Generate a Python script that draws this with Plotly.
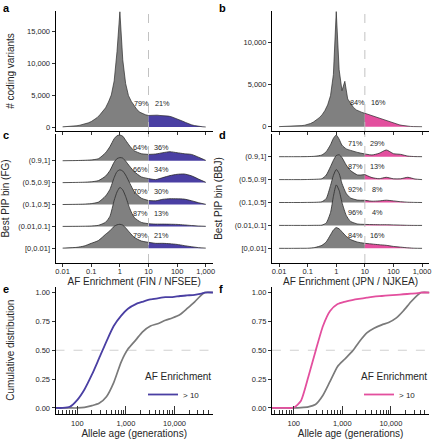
import numpy as np
import plotly.graph_objects as go

# ---------------- data ----------------
# panels a / b : histogram of log10(AF enrichment), bin centres
hist_log10_af = [-2.0, -1.9, -1.8, -1.7, -1.6, -1.5, -1.4, -1.3, -1.2, -1.1,
                 -1.0, -0.9, -0.8, -0.7, -0.6, -0.5, -0.4, -0.3, -0.2, -0.1,
                 0.0, 0.1, 0.2, 0.3, 0.4, 0.5, 0.6, 0.7, 0.8, 0.9,
                 1.0, 1.1, 1.2, 1.3, 1.4, 1.5, 1.6, 1.7, 1.8, 1.9,
                 2.0, 2.1, 2.2, 2.3, 2.4, 2.5, 2.6, 2.7, 2.8, 2.9, 3.0]
fin_counts = [20, 40, 60, 100, 140, 200, 280, 380, 500, 650,
              850, 1100, 1450, 1900, 2400, 3000, 3900, 5000, 7200, 11800,
              18000, 10500, 6800, 4900, 4000, 3300, 2700, 2300, 2050, 1900,
              1800, 1850, 1900, 1850, 1800, 1800, 1750, 1700, 1600, 1450,
              1300, 1100, 900, 700, 500, 350, 230, 140, 70, 25, 5]
jpn_counts = [10, 15, 20, 30, 40, 55, 70, 95, 130, 180,
              260, 380, 550, 780, 1050, 1400, 1900, 2600, 3700, 6200,
              13700, 6800, 4300, 5400, 3300, 2800, 2300, 2000, 1800, 1700,
              1600, 1480, 1350, 1220, 1100, 980, 860, 740, 620, 510,
              400, 310, 230, 160, 100, 60, 30, 15, 5, 2, 0]
fin_pct = ["79%", "21%"]
jpn_pct = ["84%", "16%"]

# panels c / d : ridgeline densities (relative heights) per best-PIP bin
ridge_log10_af = [-2, -1.5, -1.25, -1, -0.75, -0.5, -0.35, -0.2, -0.1, 0, 0.1, 0.2,
                  0.35, 0.5, 0.75, 1, 1.25, 1.5, 1.75, 2, 2.25, 2.5, 2.75, 3]
pip_bins = ["[0,0.01]", "(0.01,0.1]", "(0.1,0.5]", "(0.5,0.9]", "(0.9,1]"]
fg_dens_bin1 = [0.2, 1, 2.3, 5, 7.8, 14, 17.5, 22, 23.5, 24, 23.2, 20.5, 15.5, 11, 7.3, 6, 5, 5, 4.6, 3.9, 2.7, 1.6, 0.7, 0.2]
fg_dens_bin2 = [0, 0.1, 0.2, 0.4, 1.1, 4.2, 10, 26, 34.5, 39, 36.5, 30, 17.5, 9, 4, 2.7, 2.3, 2.3, 2.2, 2, 1.5, 0.9, 0.4, 0.1]
fg_dens_bin3 = [0, 0.2, 0.4, 0.9, 2.4, 8.5, 15, 27, 33, 34.7, 33.5, 29.5, 21, 13, 6.3, 4, 3.7, 5.2, 5.8, 5.7, 5.4, 3.8, 1.8, 0.2]
fg_dens_bin4 = [0, 0.2, 0.4, 0.8, 2, 6.5, 12, 20.5, 24, 25, 24.5, 21.5, 16, 11, 5.7, 4, 3, 5, 7, 8.3, 8.6, 6.8, 3.5, 0.3]
fg_dens_bin5 = [0, 0.2, 0.4, 0.8, 2, 8, 14, 22, 25, 25.7, 24.5, 20.5, 14.5, 10, 7, 6.3, 6.7, 8, 9, 8, 7, 6.3, 3.5, 0.3]
bbj_dens_bin1 = [0, 0, 0.05, 0.1, 0.8, 3, 6.5, 13.5, 18.3, 20.7, 19.5, 16.5, 12, 8.8, 6.2, 5, 4.3, 3.6, 3, 1.9, 1.2, 0.5, 0.1, 0]
bbj_dens_bin2 = [0, 0, 0, 0, 0.1, 0.3, 2.5, 13, 29, 40.5, 35, 23, 10, 4, 1.4, 1, 0.8, 0.7, 0.7, 0.5, 0.3, 0.1, 0, 0]
bbj_dens_bin3 = [0, 0, 0, 0.1, 0.2, 0.8, 4, 17, 27, 33, 29, 19, 9, 4.5, 2.4, 2.2, 1.3, 1.6, 2.3, 1.6, 0.8, 0.3, 0.1, 0]
bbj_dens_bin4 = [0, 0, 0, 0.1, 0.3, 0.9, 4.5, 13, 19.3, 24, 24.8, 22, 14.5, 9, 4.6, 5, 2, 0.9, 2.3, 0.8, 0.8, 2.3, 0.6, 0]
bbj_dens_bin5 = [0, 0, 0, 0.1, 0.4, 1.7, 5, 12, 18.3, 21.7, 17.5, 11.5, 7.8, 6.3, 4.2, 2.7, 1.7, 3.4, 6.7, 3, 2.3, 0.6, 0.1, 0]
fg_pct_low = ["79%", "87%", "70%", "66%", "64%"]
fg_pct_high = ["21%", "13%", "30%", "34%", "36%"]
bbj_pct_low = ["84%", "96%", "92%", "87%", "71%"]
bbj_pct_high = ["16%", "4%", "8%", "13%", "29%"]

# panels e / f : cumulative distribution of allele age
allele_age = [35, 50, 70, 100, 140, 200, 280, 400, 560, 800, 1100, 1600, 2200, 3200,
              4500, 6500, 9000, 13000, 18000, 26000, 36000, 42000, 65000]
fin_cdf_high = [0, 0, 0.01, 0.07, 0.16, 0.29, 0.43, 0.58, 0.71, 0.80, 0.86, 0.90, 0.92, 0.94,
                0.95, 0.96, 0.96, 0.97, 0.975, 0.98, 0.99, 1.0, 1.0]
fin_cdf_low = [0, 0, 0, 0, 0.005, 0.02, 0.04, 0.10, 0.22, 0.40, 0.51, 0.59, 0.66, 0.71,
               0.73, 0.76, 0.78, 0.81, 0.86, 0.92, 0.98, 1.0, 1.0]
jpn_cdf_high = [0, 0, 0, 0.003, 0.06, 0.27, 0.49, 0.71, 0.84, 0.90, 0.92, 0.935, 0.945, 0.955,
                0.965, 0.97, 0.975, 0.98, 0.985, 0.99, 0.995, 1.0, 1.0]
jpn_cdf_low = [0, 0, 0, 0, 0.003, 0.01, 0.03, 0.11, 0.23, 0.36, 0.42, 0.49, 0.57, 0.65,
               0.69, 0.72, 0.74, 0.78, 0.84, 0.92, 0.98, 1.0, 1.0]

# ---------------- style ----------------
FONT = "Liberation Sans, Arial, Helvetica, sans-serif"
TXT = "#262626"
GRAY = "#808080"
BLUE = "#4A3FA3"
PINK = "#E34F9E"
OUTLINE = "#2b2b2b"
W, H = 434, 440


def px_x(p):
    return p / W


def px_y(p):
    return 1 - p / H


XL = [px_x(55.5), px_x(212.9)]
XR = [px_x(271.9), px_x(429.2)]
Y_AB = [px_y(131), px_y(11)]
Y_CD = [px_y(263), px_y(134)]
Y_EF = [px_y(413.5), px_y(287)]

fig = go.Figure()


def add_hist(counts, color, xa, ya):
    xs = np.array(hist_log10_af)
    ys = np.array(counts, dtype=float)
    for mask, col in ((xs <= 1.0001, GRAY), (xs >= 0.9999, color)):
        fig.add_trace(go.Scatter(
            x=xs[mask], y=ys[mask], mode="lines", fill="tozeroy", fillcolor=col,
            line=dict(color=OUTLINE, width=0.7),
            xaxis=xa, yaxis=ya, showlegend=False, hoverinfo="skip"))


add_hist(fin_counts, BLUE, "x", "y")
add_hist(jpn_counts, PINK, "x2", "y2")


def add_ridges(dens_list, color, xa, ya, scale):
    xs = np.array(ridge_log10_af, dtype=float)
    for idx in reversed(range(len(dens_list))):
        d = np.array(dens_list[idx], dtype=float) * scale
        for mask, col in ((xs <= 1, GRAY), (xs >= 1, color)):
            fig.add_trace(go.Scatter(
                x=xs[mask], y=np.full(mask.sum(), float(idx)), mode="lines",
                line=dict(width=0, color=col), xaxis=xa, yaxis=ya,
                showlegend=False, hoverinfo="skip"))
            fig.add_trace(go.Scatter(
                x=xs[mask], y=idx + d[mask], mode="lines", fill="tonexty", fillcolor=col,
                line=dict(color=OUTLINE, width=0.8, shape="spline", smoothing=0.6),
                xaxis=xa, yaxis=ya, showlegend=False, hoverinfo="skip"))


add_ridges([fg_dens_bin1, fg_dens_bin2, fg_dens_bin3, fg_dens_bin4, fg_dens_bin5],
           BLUE, "x3", "y3", 1 / 21.9)
add_ridges([bbj_dens_bin1, bbj_dens_bin2, bbj_dens_bin3, bbj_dens_bin4, bbj_dens_bin5],
           PINK, "x4", "y4", 1 / 22.9)


def add_cdf(low, high, color, xa, ya, legend):
    fig.add_trace(go.Scatter(x=allele_age, y=low, mode="lines", name="≤ 10",
                             line=dict(color="#7a7a7a", width=1.7, shape="spline", smoothing=0.6),
                             xaxis=xa, yaxis=ya, showlegend=False, legend=legend))
    fig.add_trace(go.Scatter(x=allele_age, y=high, mode="lines", name="> 10",
                             line=dict(color=color, width=1.8, shape="spline", smoothing=0.6),
                             xaxis=xa, yaxis=ya, showlegend=True, legend=legend))


add_cdf(fin_cdf_low, fin_cdf_high, BLUE, "x5", "y5", "legend")
add_cdf(jpn_cdf_low, jpn_cdf_high, PINK, "x6", "y6", "legend2")

# ---------------- axes ----------------
tickfont = dict(size=7.5, color=TXT, family=FONT)
titlefont = dict(size=10, color=TXT, family=FONT)
common = dict(showline=True, linecolor="black", linewidth=0.9, ticks="outside", ticklen=3,
              tickwidth=0.8, tickcolor="#333", showgrid=False, zeroline=False, tickfont=tickfont,
              automargin=False)

af_ticks = [-2, -1, 0, 1, 2, 3]
af_text = ["0.01", "0.1", "1", "10", "100", "1,000"]

layout_axes = dict(
    xaxis=dict(domain=XL, anchor="y", range=[-2.25, 3.25], tickvals=af_ticks,
               showticklabels=False, **common),
    xaxis2=dict(domain=XR, anchor="y2", range=[-2.25, 3.25], tickvals=af_ticks,
                showticklabels=False, **common),
    xaxis3=dict(domain=XL, anchor="y3", range=[-2.25, 3.25], tickvals=af_ticks, ticktext=af_text,
                ticklabelstandoff=-2,
                title=dict(text="AF Enrichment (FIN / NFSEE)", font=titlefont, standoff=0), **common),
    xaxis4=dict(domain=XR, anchor="y4", range=[-2.25, 3.25], tickvals=af_ticks, ticktext=af_text,
                ticklabelstandoff=-2,
                title=dict(text="AF Enrichment (JPN / NJKEA)", font=titlefont, standoff=0), **common),
    yaxis=dict(domain=Y_AB, anchor="x", range=[-625, 18125], tickvals=[0, 5000, 10000, 15000],
               tickformat=",d",
               title=dict(text="# coding variants", font=titlefont, standoff=10), **common),
    yaxis2=dict(domain=Y_AB, anchor="x2", range=[-512, 13774], tickvals=[0, 5000, 10000],
                tickformat=",d", **common),
    yaxis3=dict(domain=Y_CD, anchor="x3", range=[-0.67, 5.22], tickvals=[0, 1, 2, 3, 4],
                ticktext=pip_bins,
                title=dict(text="Best PIP bin (FG)", font=titlefont, standoff=10), **common),
    yaxis4=dict(domain=Y_CD, anchor="x4", range=[-0.64, 4.99], tickvals=[0, 1, 2, 3, 4],
                ticktext=pip_bins,
                title=dict(text="Best PIP bin (BBJ)", font=titlefont, standoff=10), **common),
)

minor_vals = [k * 10 ** n for n in range(1, 5) for k in range(2, 10)]
age_axis = dict(type="log", range=[1.55, 4.79], tickvals=[100, 1000, 10000],
                ticktext=["100", "1,000", "10,000"], automargin=False,
                showline=True, linecolor="black", linewidth=0.9, ticks="inside", ticklen=8,
                tickwidth=0.8, tickcolor="#333", showgrid=False, zeroline=False, tickfont=tickfont,
                ticklabelstandoff=3,
                minor=dict(tickmode="array", tickvals=minor_vals, ticks="inside", ticklen=3.5,
                           tickwidth=0.7, tickcolor="#333", showgrid=False))
cdf_axis = dict(range=[-0.048, 1.048], tickvals=[0, 0.25, 0.5, 0.75, 1], tickformat=".2f", **common)

layout_axes.update(
    xaxis5=dict(domain=XL, anchor="y5",
                title=dict(text="Allele age (generations)", font=titlefont, standoff=0), **age_axis),
    xaxis6=dict(domain=XR, anchor="y6",
                title=dict(text="Allele age (generations)", font=titlefont, standoff=0), **age_axis),
    yaxis5=dict(domain=Y_EF, anchor="x5",
                title=dict(text="Cumulative distribution", font=titlefont, standoff=18), **cdf_axis),
    yaxis6=dict(domain=Y_EF, anchor="x6", **cdf_axis),
)

# ---------------- shapes ----------------
shapes = []
for xa, ya in (("x", "y"), ("x2", "y2"), ("x3", "y3"), ("x4", "y4")):
    shapes.append(dict(type="line", xref=xa, yref=ya + " domain", x0=1, x1=1, y0=0, y1=1,
                       line=dict(color="#BBBBBB", width=0.9, dash="dash"), layer="above"))
for xa, ya in (("x5", "y5"), ("x6", "y6")):
    shapes.append(dict(type="line", xref=xa + " domain", yref=ya, x0=0, x1=1, y0=0.5, y1=0.5,
                       line=dict(color="#CCCCCC", width=0.9, dash="dash"), layer="below"))

# ---------------- annotations ----------------
ann = []
pfont = dict(size=7.3, color=TXT, family=FONT)
for xa, ya, labs, yv in (("x", "y", fin_pct, 3750), ("x2", "y2", jpn_pct, 2850)):
    ann.append(dict(xref=xa, yref=ya, x=0.74, y=yv, text=labs[0], showarrow=False, font=pfont))
    ann.append(dict(xref=xa, yref=ya, x=1.49, y=yv, text=labs[1], showarrow=False, font=pfont))
for i in range(len(pip_bins)):
    ann.append(dict(xref="x3", yref="y3", x=0.71, y=i + 0.6, text=fg_pct_low[i], showarrow=False, font=pfont))
    ann.append(dict(xref="x3", yref="y3", x=1.47, y=i + 0.6, text=fg_pct_high[i], showarrow=False, font=pfont))
    ann.append(dict(xref="x4", yref="y4", x=0.68, y=i + 0.56, text=bbj_pct_low[i], showarrow=False, font=pfont))
    ann.append(dict(xref="x4", yref="y4", x=1.45, y=i + 0.56, text=bbj_pct_high[i], showarrow=False, font=pfont))

lfont = dict(size=11, color="black", family=FONT)
for letter, xp, yp in (("a", 1, 8), ("b", 217, 8), ("c", 1, 135), ("d", 217, 135),
                       ("e", 1, 289), ("f", 217, 289)):
    ann.append(dict(xref="paper", yref="paper", x=px_x(xp), y=px_y(yp), xanchor="left",
                    yanchor="middle", text="<b>%s</b>" % letter, showarrow=False, font=lfont))

legend_common = dict(xanchor="left", yanchor="top", bgcolor="rgba(0,0,0,0)",
                     title=dict(text="AF Enrichment", font=dict(size=10, color=TXT, family=FONT)),
                     font=dict(size=8, color=TXT, family=FONT), tracegroupgap=0)

fig.update_layout(
    width=W, height=H, margin=dict(l=0, r=0, t=0, b=0, autoexpand=False),
    paper_bgcolor="white", plot_bgcolor="white",
    font=dict(family=FONT, color=TXT),
    shapes=shapes, annotations=ann,
    legend=dict(x=px_x(143), y=px_y(367), **legend_common),
    legend2=dict(x=px_x(359), y=px_y(367), **legend_common),
    **layout_axes,
)

fig.write_html("out.html", config={"displayModeBar": False},
               post_script="document.body.style.margin='0px';")
